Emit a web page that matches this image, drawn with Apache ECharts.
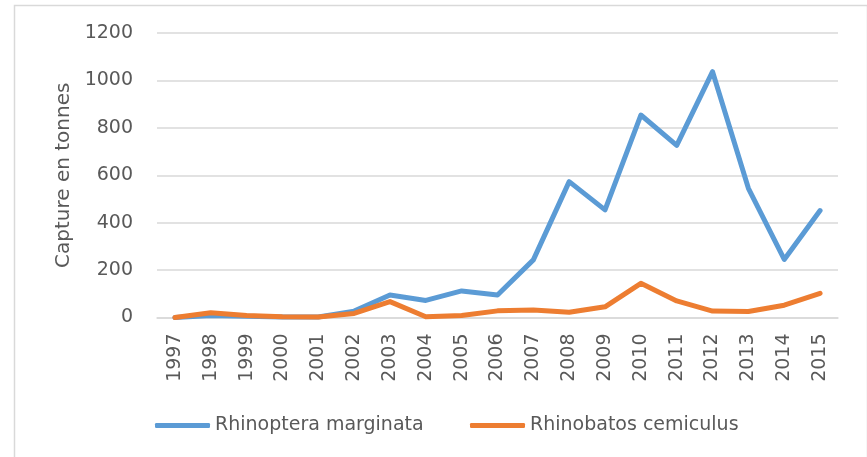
<!DOCTYPE html>
<html>
<head>
<meta charset="utf-8">
<script src="https://cdn.jsdelivr.net/npm/echarts@6/dist/echarts.min.js"></script>
<style>
html,body{margin:0;padding:0;background:#fff;}
#chart{width:867px;height:457px;}
</style>
</head>
<body>
<div id="chart"></div>
<script>
const years = ['1997','1998','1999','2000','2001','2002','2003','2004','2005','2006','2007','2008','2009','2010','2011','2012','2013','2014','2015'];
const rhinoptera = [0, 8, 5, 2, 2, 27, 95, 72, 112, 95, 243, 573, 454, 854, 726, 1037, 545, 245, 451];
const rhinobatos = [0, 20, 8, 3, 2, 17, 67, 3, 8, 28, 32, 22, 45, 144, 70, 27, 25, 52, 102];
const yTicks = [0, 200, 400, 600, 800, 1000, 1200];
const seriesNames = ['Rhinoptera marginata', 'Rhinobatos cemiculus'];

const FONT = 'DejaVu Sans';
const TXT = '#595959';
const chart = echarts.init(document.getElementById('chart'), null, {renderer: 'canvas'});
chart.setOption({
  animation: false,
  backgroundColor: '#fff',
  graphic: [{
    type: 'rect', left: 12, top: 3,
    shape: {x: 0, y: 0, width: 853, height: 470},
    style: {fill: 'none', stroke: '#D9D9D9', lineWidth: 1.5},
    silent: true
  }],
  grid: {left: 157, right: 29, top: 33, bottom: 139.5},
  legend: [
    {data: [seriesNames[0]], left: 150, top: 411, icon: 'roundRect', itemWidth: 55, itemHeight: 5,
     textStyle: {fontFamily: FONT, fontSize: 19, color: TXT}},
    {data: [seriesNames[1]], left: 465, top: 411, icon: 'roundRect', itemWidth: 55, itemHeight: 5,
     textStyle: {fontFamily: FONT, fontSize: 19, color: TXT}}
  ],
  xAxis: {
    type: 'category', data: years, boundaryGap: true,
    axisLine: {lineStyle: {color: '#D9D9D9', width: 1.5}},
    axisTick: {show: false},
    axisLabel: {rotate: 90, margin: 16, fontFamily: FONT, fontSize: 19, color: TXT, interval: 0}
  },
  yAxis: {
    type: 'value', min: yTicks[0], max: yTicks[yTicks.length - 1], interval: yTicks[1] - yTicks[0],
    name: 'Capture en tonnes', nameLocation: 'middle', nameGap: 80,
    nameTextStyle: {fontFamily: FONT, fontSize: 20, color: TXT},
    axisLine: {show: false}, axisTick: {show: false},
    axisLabel: {margin: 24, fontFamily: FONT, fontSize: 19, color: TXT, formatter: v => String(v)},
    splitLine: {lineStyle: {color: '#D9D9D9', width: 1.5}}
  },
  series: [
    {name: seriesNames[0], type: 'line', data: rhinoptera, symbol: 'none', color: '#5B9BD5',
     lineStyle: {width: 5, color: '#5B9BD5', cap: 'round', join: 'round'}},
    {name: seriesNames[1], type: 'line', data: rhinobatos, symbol: 'none', color: '#ED7D31',
     lineStyle: {width: 5, color: '#ED7D31', cap: 'round', join: 'round'}}
  ]
});
</script>
</body>
</html>
